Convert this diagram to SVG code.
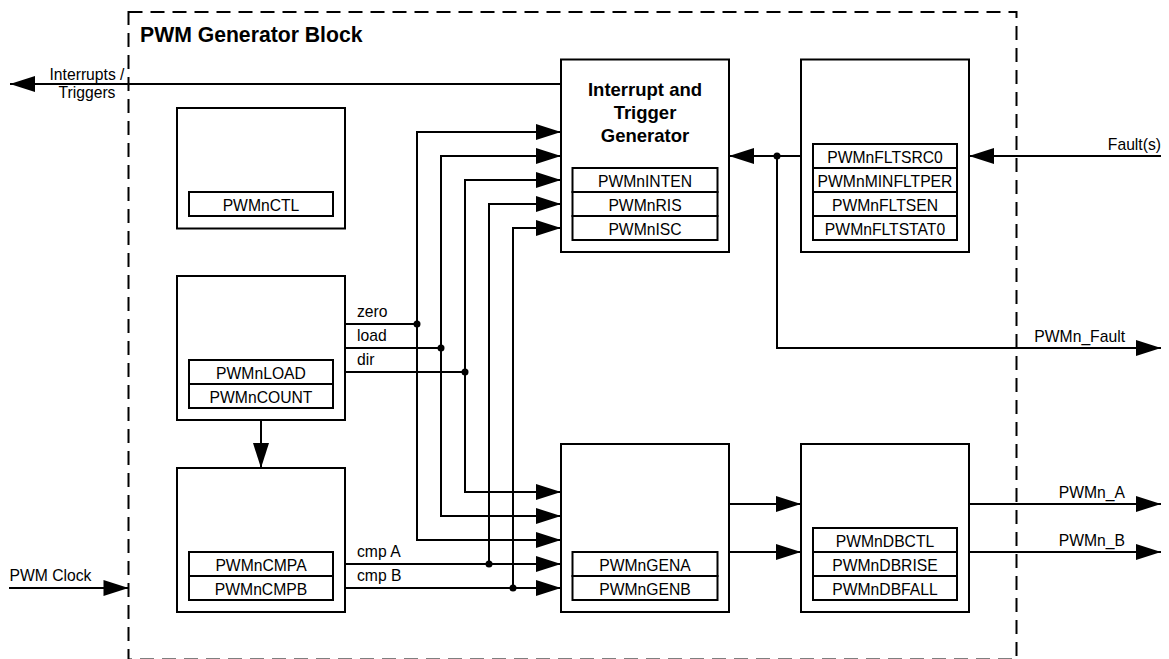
<svg xmlns="http://www.w3.org/2000/svg" width="1169" height="659" viewBox="0 0 1169 659">
<style>
.box{fill:#fff;stroke:#000;stroke-width:2}
.reg{fill:#fff;stroke:#000;stroke-width:2}
.ln{fill:none;stroke:#000;stroke-width:2}
.arr{fill:none;stroke:#000;stroke-width:2;marker-end:url(#ah)}
.t{font-family:"Liberation Sans",Arial,sans-serif;font-size:15.7px;fill:#000}
.c{text-anchor:middle}
.e{text-anchor:end}
.b{font-family:"Liberation Sans",Arial,sans-serif;font-weight:bold;fill:#000}
.dot{fill:#000}
</style>
<defs>
<marker id="ah" markerUnits="userSpaceOnUse" markerWidth="26" markerHeight="17" refX="25" refY="8" orient="auto" viewBox="0 0 26 17" overflow="visible">
<path d="M0,0 L25,8 L0,16 z" fill="#000"/>
</marker>
</defs>
<rect width="1169" height="659" fill="#fff"/>
<g id="boundary">
<rect x="128.5" y="12" width="888" height="647.5" fill="none" stroke="#000" stroke-width="2" stroke-dasharray="14 8"/>
<text class="b" x="140" y="41.5" font-size="21.2px">PWM Generator Block</text>
</g>
<g id="connectors">
<path class="arr" d="M561,84 H10"/>
<path class="arr" d="M1161,156 H969"/>
<path class="arr" d="M801,156 H729"/>
<path class="arr" d="M777,156 V348 H1161"/>
<path class="ln" d="M345,324 H417"/>
<path class="arr" d="M417,324 V132 H561"/>
<path class="arr" d="M417,324 V540 H561"/>
<path class="ln" d="M345,348 H441"/>
<path class="arr" d="M441,348 V156 H561"/>
<path class="arr" d="M441,348 V516 H561"/>
<path class="ln" d="M345,372 H465"/>
<path class="arr" d="M465,372 V180 H561"/>
<path class="arr" d="M465,372 V492 H561"/>
<path class="arr" d="M345,564 H561"/>
<path class="arr" d="M489,564 V204 H561"/>
<path class="arr" d="M345,588 H561"/>
<path class="arr" d="M513,588 V228 H561"/>
<path class="arr" d="M261,420 V468"/>
<path class="arr" d="M9,588 H128.5"/>
<path class="arr" d="M729,504 H801"/>
<path class="arr" d="M729,552 H801"/>
<path class="arr" d="M969,504 H1161"/>
<path class="arr" d="M969,552 H1161"/>
<circle class="dot" cx="777" cy="156" r="3.5"/>
<circle class="dot" cx="417" cy="324" r="3.5"/>
<circle class="dot" cx="441" cy="348" r="3.5"/>
<circle class="dot" cx="465" cy="372" r="3.5"/>
<circle class="dot" cx="489" cy="564" r="3.5"/>
<circle class="dot" cx="513" cy="588" r="3.5"/>
<text class="t c" x="87" y="79.5">Interrupts /</text>
<text class="t c" x="87" y="98">Triggers</text>
<text class="t e" x="1161" y="149.5">Fault(s)</text>
<text class="t e" x="1125" y="341.5">PWMn_Fault</text>
<text class="t e" x="1125" y="497.5">PWMn_A</text>
<text class="t e" x="1125" y="545.5">PWMn_B</text>
<text class="t" x="357" y="316.5">zero</text>
<text class="t" x="357" y="341">load</text>
<text class="t" x="357" y="365">dir</text>
<text class="t" x="357" y="556.5">cmp A</text>
<text class="t" x="357" y="580.5">cmp B</text>
<text class="t" x="9.5" y="580.5">PWM Clock</text>
</g>
<g id="ctl">
<rect class="box" x="177" y="108" width="168" height="120.5"/>
<rect class="reg" x="189" y="192" width="144" height="24"/>
<text class="t c" x="261" y="210.5">PWMnCTL</text>
</g>
<g id="counter">
<rect class="box" x="177" y="276" width="168" height="144"/>
<rect class="reg" x="189" y="360" width="144" height="24"/>
<rect class="reg" x="189" y="384" width="144" height="24"/>
<text class="t c" x="261" y="378.5">PWMnLOAD</text>
<text class="t c" x="261" y="402.5">PWMnCOUNT</text>
</g>
<g id="compare">
<rect class="box" x="177" y="468" width="168" height="144"/>
<rect class="reg" x="189" y="552" width="144" height="24"/>
<rect class="reg" x="189" y="576" width="144" height="24"/>
<text class="t c" x="261" y="570.5">PWMnCMPA</text>
<text class="t c" x="261" y="594.5">PWMnCMPB</text>
</g>
<g id="interrupt">
<rect class="box" x="561" y="59.5" width="168" height="192.5"/>
<text class="b c" x="645" y="95.5" font-size="18.5px">Interrupt and</text>
<text class="b c" x="645" y="118.5" font-size="18.5px">Trigger</text>
<text class="b c" x="645" y="141.5" font-size="18.5px">Generator</text>
<rect class="reg" x="572.5" y="168" width="145" height="24"/>
<rect class="reg" x="572.5" y="192" width="145" height="24"/>
<rect class="reg" x="572.5" y="216" width="145" height="24"/>
<text class="t c" x="645" y="186.5">PWMnINTEN</text>
<text class="t c" x="645" y="210.5">PWMnRIS</text>
<text class="t c" x="645" y="234.5">PWMnISC</text>
</g>
<g id="fault">
<rect class="box" x="801" y="59.5" width="168" height="192.5"/>
<rect class="reg" x="813" y="144" width="144" height="24"/>
<rect class="reg" x="813" y="168" width="144" height="24"/>
<rect class="reg" x="813" y="192" width="144" height="24"/>
<rect class="reg" x="813" y="216" width="144" height="24"/>
<text class="t c" x="885" y="162.5">PWMnFLTSRC0</text>
<text class="t c" x="885" y="186.5">PWMnMINFLTPER</text>
<text class="t c" x="885" y="210.5">PWMnFLTSEN</text>
<text class="t c" x="885" y="234.5">PWMnFLTSTAT0</text>
</g>
<g id="generator">
<rect class="box" x="561" y="444" width="168" height="168"/>
<rect class="reg" x="572.5" y="552" width="145" height="24"/>
<rect class="reg" x="572.5" y="576" width="145" height="24"/>
<text class="t c" x="645" y="570.5">PWMnGENA</text>
<text class="t c" x="645" y="594.5">PWMnGENB</text>
</g>
<g id="deadband">
<rect class="box" x="801" y="444" width="168" height="168"/>
<rect class="reg" x="813" y="528" width="144" height="24"/>
<rect class="reg" x="813" y="552" width="144" height="24"/>
<rect class="reg" x="813" y="576" width="144" height="24"/>
<text class="t c" x="885" y="546.5">PWMnDBCTL</text>
<text class="t c" x="885" y="570.5">PWMnDBRISE</text>
<text class="t c" x="885" y="594.5">PWMnDBFALL</text>
</g>
</svg>
